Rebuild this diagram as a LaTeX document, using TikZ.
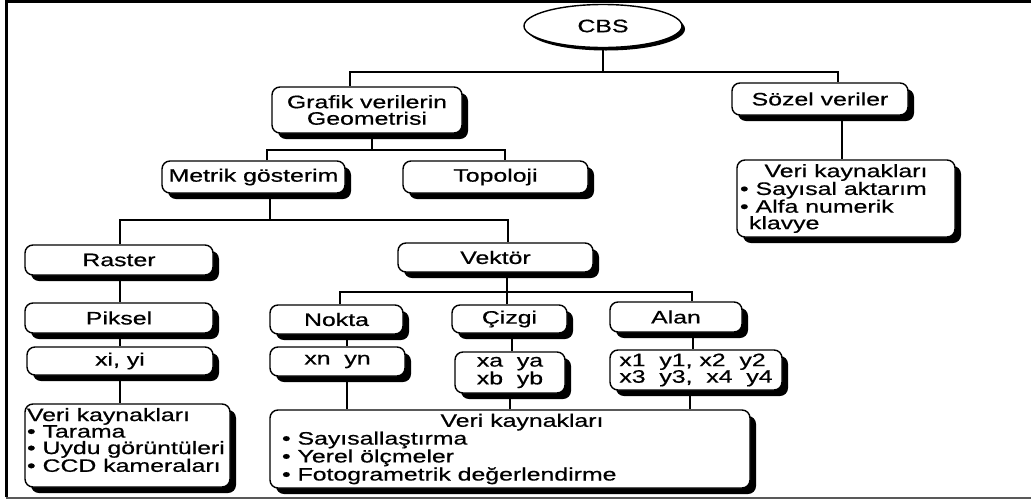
\documentclass[tikz,border=0pt]{standalone}
\usepackage{fontspec}
\setmainfont[FakeStretch=1.38,FakeBold=0.6]{Liberation Sans}
\usetikzlibrary{shadows,shapes.geometric}
\tikzset{
  txt/.style={font=\fontsize{18}{16.5}\selectfont},
  box/.style={txt, draw, line width=1.4pt, rounded corners=8pt, fill=white, inner sep=0pt,
    drop shadow={shadow xshift=6pt, shadow yshift=-6pt, fill=black, opacity=1}},
  conn/.style={line width=1.6pt},
}
\begin{document}
\begin{tikzpicture}[x=1pt,y=-1pt]
\useasboundingbox (0,0) rectangle (1031,499);
\fill[white] (0,0) rectangle (1031,499);
% frame
\draw[line width=3pt] (6,497) -- (6,1.5) -- (1031,1.5);
\draw[line width=2pt, black!65] (6,497.5) -- (1031,497.5);

% nodes
\node[txt, ellipse, draw, line width=1.4pt, fill=white, inner sep=0pt,
  minimum width=158pt, minimum height=43pt,
  drop shadow={shadow xshift=3pt, shadow yshift=-3pt, fill=black, opacity=1}] (cbs) at (603,26) {CBS};
\node[box, minimum width=190pt, minimum height=46pt, align=center] (grafik) at (367,110) {Grafik verilerin\\Geometrisi};
\node[box, minimum width=176pt, minimum height=32pt] (sozel) at (820,99) {Sözel veriler};
\node[box, minimum width=218pt, minimum height=77pt] (rveri) at (846,198.5)
  {\parbox{212pt}{\makebox[\linewidth]{Veri kaynakları}\\• Sayısal aktarım\\• Alfa numerik\\\hspace*{9pt}klavye}};
\node[box, minimum width=183pt, minimum height=32pt] (metrik) at (253.5,177) {Metrik gösterim};
\node[box, minimum width=185pt, minimum height=32pt] (topo) at (495.5,177) {Topoloji};
\node[box, minimum width=188pt, minimum height=30pt] (raster) at (119,260) {Raster};
\node[box, minimum width=195pt, minimum height=29pt] (vektor) at (495.5,257.5) {Vektör};
\node[box, minimum width=188pt, minimum height=30pt] (piksel) at (119,318) {Piksel};
\node[box, minimum width=133pt, minimum height=29pt] (nokta) at (336.5,319.5) {Nokta};
\node[box, minimum width=115pt, minimum height=28pt] (cizgi) at (509.5,319) {Çizgi};
\node[box, minimum width=132pt, minimum height=30pt] (alan) at (676,317) {Alan};
\node[box, minimum width=186pt, minimum height=28pt] (xi) at (120,361) {xi, yi};
\node[box, minimum width=135pt, minimum height=29pt] (xn) at (337.5,361.5) {xn\ \ yn};
\node[box, minimum width=110pt, minimum height=41pt, align=center] (xa) at (510,372.5) {xa\ \ ya\\xb\ \ yb};
\node[box, minimum width=172pt, minimum height=40pt, align=left] (xone) at (696,370) {x1\ \ y1, x2\ \ y2\\x3\ \ y3,\ \ x4\ \ y4};
\node[box, minimum width=205pt, minimum height=83pt] (lveri) at (127.5,445.5)
  {\parbox[c][81pt][t]{201pt}{\vspace*{3pt}Veri kaynakları\\• Tarama\\• Uydu görüntüleri\\• CCD kameraları}};
\node[box, minimum width=480pt, minimum height=78pt] (bveri) at (510,449)
  {\parbox{456pt}{\makebox[\linewidth]{\hspace*{24pt}Veri kaynakları}\\• Sayısallaştırma\\• Yerel ölçmeler\\• Fotogrametrik değerlendirme}};

% bus coordinates
\coordinate (b1) at (603,72);
\coordinate (b2) at (372,150);
\coordinate (b3) at (270,220);
\coordinate (b4) at (507,292);

% connectors
\draw[conn] (cbs.south) -- (b1);
\draw[conn] ([xshift=-17pt]grafik.north) |- (b1) -| ([xshift=18pt]sozel.north);
\draw[conn] ([xshift=22pt]sozel.south) -- ([xshift=22pt]sozel.south |- rveri.north);

\draw[conn] ([xshift=5pt]grafik.south) -- (b2);
\draw[conn] ([xshift=13.5pt]metrik.north) |- (b2) -| ([xshift=9.5pt]topo.north);

\draw[conn] ([xshift=16.5pt]metrik.south) -- (b3);
\draw[conn] ([xshift=1pt]raster.north) |- (b3) -| ([xshift=12.5pt]vektor.north);

\draw[conn] ([xshift=1pt]raster.south) -- ([xshift=1pt]raster.south |- piksel.north);
\draw[conn] ([xshift=11.5pt]vektor.south) -- (b4);
\draw[conn] ([xshift=3.5pt]nokta.north) |- (b4) -| ([xshift=16pt]alan.north);
\draw[conn] ([xshift=-2.5pt]cizgi.north) -- ([xshift=-2.5pt]cizgi.north |- b4);

\draw[conn] ([xshift=1pt]piksel.south) -- ([xshift=1pt]piksel.south |- xi.north);
\draw[conn] (xi.south) -- (xi.south |- lveri.north);
\draw[conn] ([xshift=10.5pt]nokta.south) -- ([xshift=10.5pt]nokta.south |- xn.north);
\draw[conn] ([xshift=2.5pt]cizgi.south) -- ([xshift=2.5pt]cizgi.south |- xa.north);
\draw[conn] ([xshift=17pt]alan.south) -- ([xshift=17pt]alan.south |- xone.north);

\draw[conn] ([xshift=9.5pt]xn.south) -- ([xshift=9.5pt]xn.south |- bveri.north);
\draw[conn] (xa.south) -- (xa.south |- bveri.north);
\draw[conn] ([xshift=-6pt]xone.south) -- ([xshift=-6pt]xone.south |- bveri.north);
\end{tikzpicture}
\end{document}
